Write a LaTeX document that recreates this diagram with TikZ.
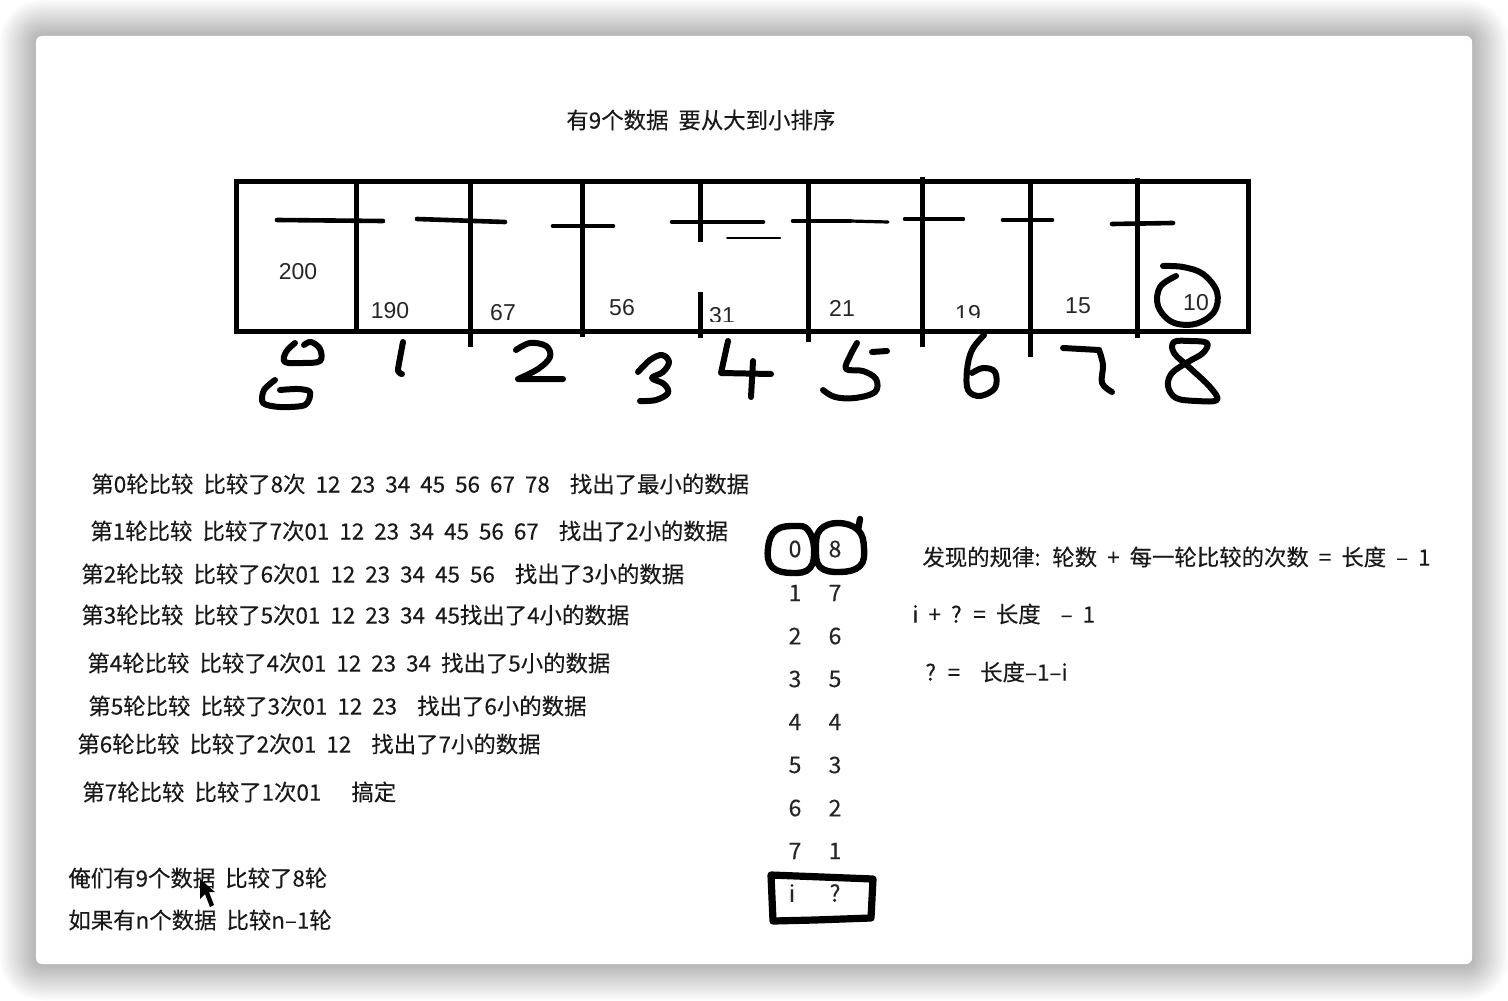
\documentclass[tikz,border=0pt]{standalone}
\usepackage{fontspec}
\newfontfamily\cjkfont[WordSpace=2.0,FakeBold=0.25]{Noto Sans CJK SC}
\newfontfamily\arrfont{Liberation Sans}
\newcommand\mytxt{\cjkfont\fontsize{11.2pt}{13pt}\selectfont}
\newcommand\myarr{\arrfont\fontsize{11.5pt}{13pt}\selectfont}
\newcommand\mypair{\cjkfont\fontsize{11.5pt}{13pt}\selectfont}
\begin{document}
\begin{tikzpicture}[x=0.5pt,y=-0.5pt,
  hand/.style={line width=3pt, line cap=round, line join=round},
  strk/.style={line width=2.3pt, line cap=round},
  boxframe/.style={line width=2.5pt},
  txt/.style={font=\mytxt, text=black!90, inner sep=0pt, anchor=west},
  num/.style={font=\myarr, text=black!85, inner sep=0pt},
  pr/.style={font=\mypair, text=black!85, inner sep=0pt}]
\useasboundingbox (0,0) rectangle (1508,1000);
\fill[white] (0,0) rectangle (1508,1000);
% shadow
\foreach \i in {1,...,18}{
  \pgfmathsetmacro\rr{3+\i}
  \fill[black, opacity=0.014, rounded corners=\rr pt] (36-2*\i,36-2*\i) rectangle (1472+2*\i,964+2*\i);
}
\fill[white, rounded corners=3pt] (36,36) rectangle (1472,964);

% title
\node[txt] (title) at (566,120) {有9个数据 要从大到小排序};

% array box
\draw[boxframe] (236,182) rectangle (1248,331);
\draw[boxframe] (356,182) -- (356,331);
\draw[boxframe] (470,182) -- (470,347);
\draw[boxframe] (582,182) -- (582,337);
\draw[boxframe] (700,182) -- (700,242);
\draw[boxframe] (700,292) -- (700,338);
\draw[boxframe] (808,182) -- (808,342);
\draw[boxframe] (922,177) -- (922,347);
\draw[boxframe] (1030,182) -- (1030,357);
\draw[boxframe] (1137,178) -- (1137,338);

% horizontal strokes
\draw[strk] (277,220) -- (383,221);
\draw[strk] (417,219) -- (505,222);
\draw[strk] (553,226) -- (613,226);
\draw[strk] (672,222) -- (763,222);
\draw[line width=1pt, line cap=round] (727,238) -- (780,238);
\draw[strk] (793,221) -- (850,221);
\draw[line width=1.6pt, line cap=round] (850,221) -- (888,222);
\draw[strk] (905,219) -- (963,219);
\draw[strk] (1003,220) -- (1052,220);
\draw[strk] (1112,224) -- (1173,223);

% numbers in the array
\node[num] (v0) at (298,272) {200};
\node[num] (v1) at (390,311) {190};
\node[num] (v2) at (503,313) {67};
\node[num] (v3) at (622,308) {56};
\begin{scope}
  \clip (705,290) rectangle (760,321);
  \node[num] (v4) at (722,316) {31};
\end{scope}
\node[num] (v5) at (842,308) {21};
\begin{scope}
  \clip (945,290) rectangle (995,317);
  \node[num] (v6) at (968,314) {19};
\end{scope}
\node[num] (v7) at (1078,306) {15};
\node[num] (v8) at (1196,303) {10};

% circle around 10
\draw[hand] plot[smooth, tension=0.6] coordinates {(1163,266) (1183,267) (1203,274) (1217,292) (1214,312) (1195,324) (1172,322) (1158,306) (1160,287) (1176,276)};

% handwritten indices
\draw[hand] plot[smooth, tension=0.6] coordinates {(295,343) (286,352) (285,362) (303,363) (320,361) (320,349) (311,342) (304,345)};
\draw[hand] plot[smooth, tension=0.5] coordinates {(275,380) (264,390) (263,403) (280,407) (305,405) (310,392) (298,389) (280,390)};
\draw[hand] plot[smooth, tension=0.5] coordinates {(403,342) (400,358) (398,371) (402,374)};
\draw[hand] plot[smooth, tension=0.6] coordinates {(516,350) (530,343) (546,346) (550,357) (538,369) (518,379)} -- (563,379);
\draw[hand] plot[smooth, tension=0.6] coordinates {(638,372) (650,360) (662,355) (669,362) (663,372) (652,378) (664,384) (668,393) (656,400) (640,401)};
\draw[hand] (728,341) -- (721,373) -- (771,374);
\draw[hand] (753,361) -- (751,397);
\draw[hand] (872,352) -- (887,351);
\draw[hand] plot[smooth, tension=0.6] coordinates {(857,343) (850,356) (846,369) (863,371) (876,379) (875,392) (855,398) (835,397) (823,390)};
\draw[hand] plot[smooth, tension=0.6] coordinates {(984,335) (972,350) (967,370) (968,390) (980,396) (995,388) (995,372) (983,368) (972,373)};
\draw[hand] (1063,348) -- (1099,350);
\draw[hand] plot[smooth, tension=0.6] coordinates {(1099,350) (1103,365) (1102,383) (1112,392)};
\draw[hand] plot[smooth cycle, tension=0.6] coordinates {(1174,342) (1190,341) (1207,343) (1203,353) (1188,362) (1172,373) (1168,386) (1176,398) (1197,401) (1217,400) (1210,387) (1190,368) (1174,353)};

% text lines
\node[txt] (l0) at (91,484) {第0轮比较 比较了8次 12 23 34 45 56 67 78\ \ 找出了最小的数据};
\node[txt] (l1) at (90,531) {第1轮比较 比较了7次01 12 23 34 45 56 67\ \ 找出了2小的数据};
\node[txt] (l2) at (81,574) {第2轮比较 比较了6次01 12 23 34 45 56\ \ 找出了3小的数据};
\node[txt] (l3) at (81,615) {第3轮比较 比较了5次01 12 23 34 45找出了4小的数据};
\node[txt] (l4) at (87,663) {第4轮比较 比较了4次01 12 23 34 找出了5小的数据};
\node[txt] (l5) at (88,706) {第5轮比较 比较了3次01 12 23\ \ 找出了6小的数据};
\node[txt] (l6) at (77,744) {第6轮比较 比较了2次01 12\ \ 找出了7小的数据};
\node[txt] (l7) at (82,792) {第7轮比较 比较了1次01\ \ \ 搞定};
\node[txt] (l8) at (68,878) {俺们有9个数据 比较了8轮};
\node[txt] (l9) at (68,920) {如果有n个数据 比较n–1轮};

% cursor
\fill[black] (200,879) -- (200,899) -- (205,894) -- (210,907) -- (214,905) -- (209,892) -- (215,892) -- cycle;

% pair column
\foreach \a/\b/\y in {0/8/549,1/7/593,2/6/636,3/5/679,4/4/722,5/3/765,6/2/808,7/1/851}{
  \node[pr] (pl\a) at (795,\y) {\a};
  \node[pr] (pr\a) at (835,\y) {\b};
}
\node[pr] (pli) at (792,893) {i};
\node[pr] (prq) at (835,893) {?};

% loops around 0 and 8
\draw[hand, line width=3.2pt] plot[smooth cycle, tension=0.7] coordinates {(796,526) (776,530) (768,548) (772,567) (792,573) (810,568) (814,548) (808,530)};
\draw[hand, line width=3.2pt] plot[smooth cycle, tension=0.7] coordinates {(838,523) (820,530) (816,548) (820,567) (840,572) (860,566) (864,548) (858,530)};
\draw[hand, line width=3.2pt] (858,530) -- (860,519);

% box around i ?
\draw[hand, line width=3.6pt] (771,875) -- (873,879) -- (871,918) -- (815,920) -- (773,921) -- cycle;

% right side text
\node[txt] (r1) at (922,557) {发现的规律: 轮数 + 每一轮比较的次数 = 长度 – 1};
\node[txt] (r2) at (912,614) {i + ? = 长度\ \ – 1};
\node[txt] (r3) at (925,672) {? =\ \ 长度–1–i};
\end{tikzpicture}
\end{document}
